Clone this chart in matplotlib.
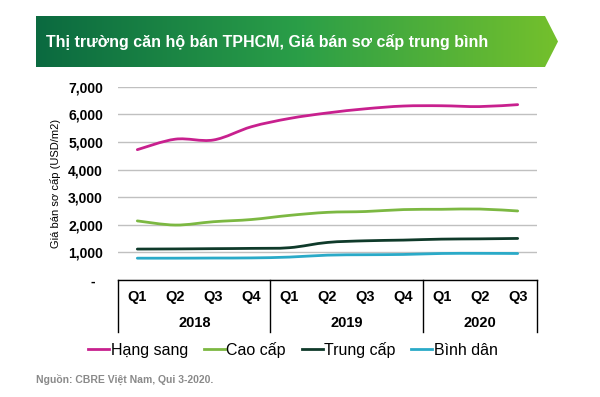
import numpy as np
import matplotlib
matplotlib.use("Agg")
import matplotlib.pyplot as plt
from matplotlib.path import Path
from matplotlib.patches import PathPatch, Polygon
from matplotlib.lines import Line2D
from matplotlib.colors import LinearSegmentedColormap
import matplotlib.transforms as mtransforms

plt.rcParams['font.family'] = ['Liberation Sans', 'DejaVu Sans']

# ==========================================
# DATA
# ==========================================
quarters = ['Q1', 'Q2', 'Q3', 'Q4', 'Q1', 'Q2', 'Q3', 'Q4', 'Q1', 'Q2', 'Q3']
years = ['2018', '2019', '2020']
year_sizes = [4, 4, 3]

hang_sang = [4720, 5100, 5070, 5550, 5850, 6050, 6200, 6300, 6310, 6280, 6350]
cao_cap = [2140, 1990, 2110, 2190, 2340, 2450, 2480, 2550, 2560, 2570, 2500]
trung_cap = [1120, 1125, 1135, 1145, 1170, 1360, 1420, 1445, 1480, 1490, 1505]
binh_dan = [790, 790, 795, 800, 830, 900, 915, 925, 960, 965, 960]

series_names = ['Hạng sang', 'Cao cấp', 'Trung cấp', 'Bình dân']
series_colors = ['#c8208e', '#7cb842', '#0f3a2a', '#2aaac8']

title = 'Thị trường căn hộ bán TPHCM, Giá bán sơ cấp trung bình'
source = 'Nguồn: CBRE Việt Nam, Qui 3-2020.'
y_label = 'Giá bán sơ cấp (USD/m2)'


def smooth_path(xs, ys):
    """Bezier path through the points, like Excel's smoothed line."""
    pts = np.column_stack([xs, ys]).astype(float)
    ext = np.vstack([pts[0], pts, pts[-1]])
    verts = [pts[0]]
    codes = [Path.MOVETO]
    for i in range(len(pts) - 1):
        p0, p1, p2, p3 = ext[i], ext[i + 1], ext[i + 2], ext[i + 3]
        c1 = p1 + (p2 - p0) / 6.0
        c2 = p2 - (p3 - p1) / 6.0
        verts += [c1, c2, p2]
        codes += [Path.CURVE4] * 3
    return Path(verts, codes)


fig = plt.figure(figsize=(6, 3.97), dpi=100)

# background layer in pixel coords for banner + footer
bg = fig.add_axes([0, 0, 1, 1], zorder=0)
bg.set_xlim(0, 600)
bg.set_ylim(397, 0)
bg.axis('off')

banner = Polygon([(36, 16), (545, 16), (558, 41.5), (545, 67), (36, 67)],
                 closed=True, facecolor='none', edgecolor='none')
bg.add_patch(banner)
cmap = LinearSegmentedColormap.from_list('banner', ['#0b6a40', '#2a9e48', '#74c02c'])
grad = np.linspace(0, 1, 256).reshape(1, -1)
im = bg.imshow(grad, cmap=cmap, extent=(36, 558, 67, 16), aspect='auto', zorder=1)
im.set_clip_path(banner)
bg.set_xlim(0, 600)
bg.set_ylim(397, 0)
bg.text(46, 42, title, color='white', fontsize=11.5, fontweight='bold',
        va='center', ha='left', zorder=2)
bg.text(36, 379, source, color='#8a8a8a', fontsize=7.5, fontweight='bold',
        va='center', ha='left')

# main chart
ax = fig.add_axes([118.3 / 600, 1 - 280 / 397, 418.4 / 600, 193.3 / 397], zorder=1)
ax.set_facecolor('none')
x = np.arange(len(quarters))
all_series = [hang_sang, cao_cap, trung_cap, binh_dan]
for vals, col in zip(all_series, series_colors):
    ax.add_patch(PathPatch(smooth_path(x, vals), facecolor='none', edgecolor=col,
                           lw=2.0, capstyle='round', zorder=3))

ax.set_xlim(-0.5, len(quarters) - 0.5)
ax.set_ylim(0, 7000)
yt = np.arange(0, 7001, 1000)
ax.set_yticks(yt)
ax.set_yticklabels(['-  '] + [f'{v:,}' for v in yt[1:]], fontsize=10, fontweight='bold')
ax.tick_params(axis='y', length=0, pad=11)
ax.set_xticks([])
ax.yaxis.grid(True, color='#c0c0c0', lw=1)
ax.set_axisbelow(True)
for s in ['top', 'right', 'left']:
    ax.spines[s].set_visible(False)
ax.spines['bottom'].set_color('black')
ax.spines['bottom'].set_linewidth(1)

ax.set_ylabel(y_label, fontsize=8)
ax.yaxis.set_label_coords(-0.137, 0.5)

# category table below axis
trans = mtransforms.blended_transform_factory(ax.transData, ax.transAxes)
bounds = np.concatenate([[0], np.cumsum(year_sizes)]) - 0.5
for b in bounds:
    ax.plot([b, b], [0, -0.27], color='black', lw=1, transform=trans, clip_on=False)
for i, q in enumerate(quarters):
    ax.text(i, -0.088, q, transform=trans, ha='center', va='center',
            fontsize=10.5, fontweight='bold')
for j, yr in enumerate(years):
    ax.text((bounds[j] + bounds[j + 1]) / 2, -0.222, yr, transform=trans,
            ha='center', va='center', fontsize=10.5, fontweight='bold')

handles = [Line2D([0], [0], color=c, lw=2) for c in series_colors]
fig.legend(handles, series_names, loc='center', bbox_to_anchor=(293 / 600, 1 - 350 / 397),
           ncol=4, frameon=False, fontsize=11.5, handlelength=1.3, handletextpad=0.1,
           columnspacing=1.0)

fig.savefig('out.png', dpi=100)
